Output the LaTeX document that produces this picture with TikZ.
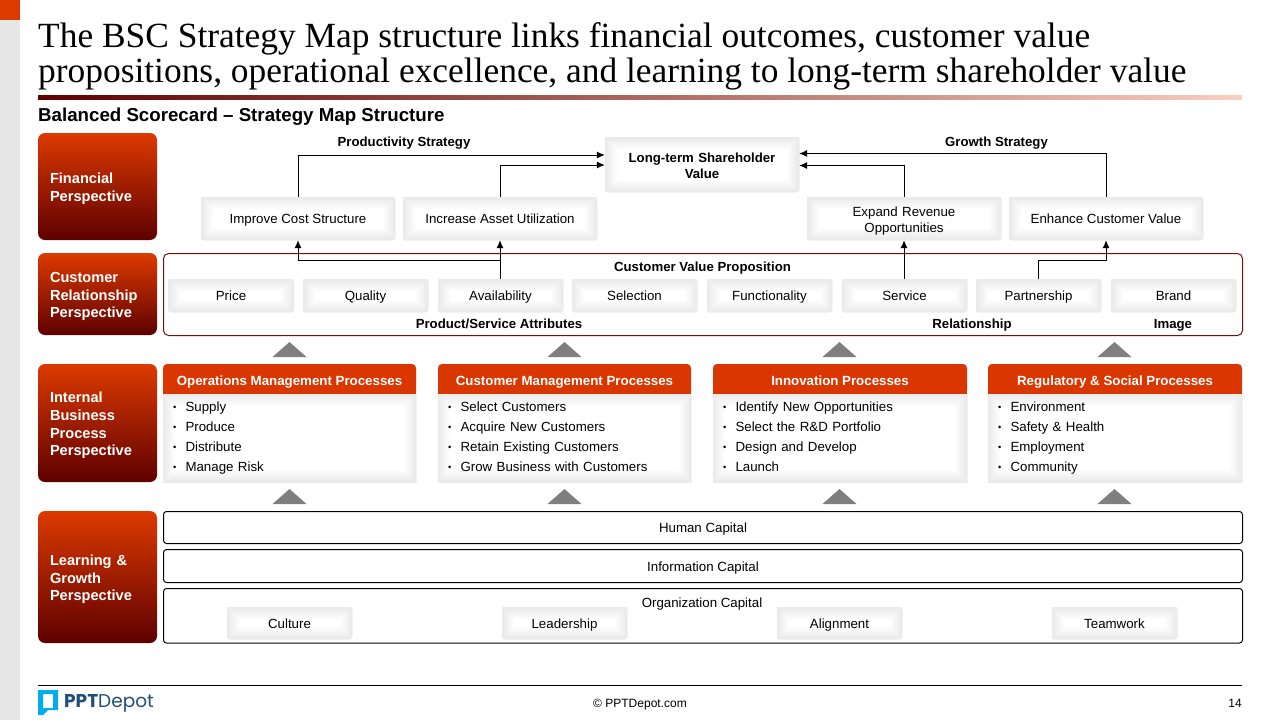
\documentclass[tikz,border=0pt]{standalone}
\usepackage{fontspec}
\setmainfont{Liberation Sans}
\newfontfamily\titlefont{Liberation Serif}
\newfontfamily\logofont{Poppins}
\usepackage{xcolor}
\usetikzlibrary{arrows.meta}

\definecolor{perred}{HTML}{DD3A00}
\definecolor{perdark}{HTML}{5E0000}
\definecolor{procred}{HTML}{DA3700}
\definecolor{framered}{HTML}{7A0C0C}
\definecolor{triangray}{HTML}{7F7F7F}
\definecolor{stripgray}{HTML}{E6E6E6}
\definecolor{rulepale}{HTML}{F9CFBF}
\definecolor{logoblue}{HTML}{00AEEF}
\definecolor{logonavy}{HTML}{1F4E79}

\newcommand{\itm}{\makebox[22.5pt][l]{\hspace{10pt}\raisebox{1pt}{\scalebox{0.7}{\textbullet}}}}

\tikzset{
    textrule/.style={
        execute at begin node={\rule{0pt}{#1}},
        execute at end node={\rule[-3pt]{0pt}{3pt}}},
    softbox/.style={rounded corners=2pt, fill=white, align=center, inner sep=0pt,
        font=\fontsize{13.3}{16}\selectfont,
        path picture={
            \foreach \i [evaluate=\i as \c using 9*(1-\i/13)] in {12,...,1}
                \draw[line width=2*\i pt, draw=black!\c]
                    (path picture bounding box.south west) rectangle (path picture bounding box.north east);
        }},
    attrbox/.style={softbox, textrule=13pt, minimum width=125pt, minimum height=33pt},
    finbox/.style={softbox, minimum width=194pt, minimum height=43pt},
    perspective/.style={rounded corners=7pt, top color=perred, bottom color=perdark, text=white,
        minimum width=119pt, inner xsep=12pt, inner ysep=0pt, text width=95pt, align=left, textrule=15.5pt,
        font=\bfseries\fontsize{14.6}{17.6}\selectfont},
    prochead/.style={fill=procred, rounded corners=4pt, text=white, minimum height=30pt, inner sep=0pt, textrule=16pt,
        font=\bfseries\fontsize{13.3}{15}\selectfont},
    procbody/.style={softbox, rounded corners=0pt, minimum height=88pt, inner sep=0pt, align=left, textrule=10.5pt,
        font=\fontsize{13.3}{20}\selectfont},
    capframe/.style={draw=black, rounded corners=3pt, line width=1pt, minimum width=1079pt, inner sep=0pt, textrule=13pt,
        font=\fontsize{13.3}{16}\selectfont},
    caption/.style={inner sep=0pt, textrule=13pt, font=\bfseries\fontsize{13.2}{16}\selectfont},
    link/.style={draw=black, line width=1pt, -{Latex[length=8pt,width=7pt]}},
    uptri/.style={fill=triangray},
}

\begin{document}
\begin{tikzpicture}[x=1pt, y=-1pt]
    \useasboundingbox (0,0) rectangle (1280,720);

    % slide furniture
    \fill[stripgray] (0,0) rectangle (20,720);
    \fill[perred] (0,0) rectangle (20,20);
    \node[anchor=north west, inner sep=0pt, align=left, font=\titlefont\fontsize{35.4}{35}\selectfont] (title) at (38,22.5)
        {The BSC Strategy Map structure links financial outcomes, customer value\\propositions, operational excellence, and learning to long-term shareholder value};
    \shade[left color=perdark, right color=rulepale] (38,95) rectangle (1242,99);
    \node[anchor=west, inner sep=0pt, font=\bfseries\fontsize{18.7}{22}\selectfont] (subtitle) at (38,116.5)
        {Balanced Scorecard -- Strategy Map Structure};

    % perspectives on the left
    \node[perspective, minimum height=107pt] (finpersp) at (97.5,186.5) {Financial\\Perspective};
    \node[perspective, minimum height=82pt] (custpersp) at (97.5,294) {Customer\\Relationship\\Perspective};
    \node[perspective, minimum height=118pt] (intpersp) at (97.5,423) {Internal\\Business\\Process\\Perspective};
    \node[perspective, minimum height=132pt] (learnpersp) at (97.5,577) {Learning \&\\Growth\\Perspective};

    % financial row
    \node[softbox, textrule=15pt, text width=190pt, minimum width=194pt, minimum height=55pt, font=\bfseries\fontsize{13.2}{16}\selectfont] (value) at (702,164.5) {Long-term Shareholder\\Value};
    \node[finbox, textrule=13pt] (cost) at (298,218.5) {Improve Cost Structure};
    \node[finbox, textrule=13pt] (util) at (500,218.5) {Increase Asset Utilization};
    \node[finbox, textrule=15pt, text width=190pt] (expand) at (904,218.5) {Expand Revenue\\Opportunities};
    \node[finbox, textrule=13pt] (enhance) at (1106,218.5) {Enhance Customer Value};
    \node[caption] (prodcap) at (404,141) {Productivity Strategy};
    \node[caption] (growcap) at (996.5,141) {Growth Strategy};

    % customer row
    \node[draw=framered, line width=1pt, rounded corners=5pt, minimum width=1079pt, minimum height=82pt, inner sep=0pt] (cvpframe) at (703,294.5) {};
    \node[caption] (cvpcap) at (702.5,266) {Customer Value Proposition};
    \node[attrbox] (price) at (231,295.5) {Price};
    \node[attrbox] (quality) at (365.5,295.5) {Quality};
    \node[attrbox] (avail) at (500.5,295.5) {Availability};
    \node[attrbox] (select) at (634.5,295.5) {Selection};
    \node[attrbox] (func) at (769.5,295.5) {Functionality};
    \node[attrbox] (service) at (904.5,295.5) {Service};
    \node[attrbox] (partner) at (1038.5,295.5) {Partnership};
    \node[attrbox] (brand) at (1173.5,295.5) {Brand};
    \node[caption] (attrcap) at (499,323) {Product/Service Attributes};
    \node[caption] (relcap) at (972,323) {Relationship};
    \node[caption] (imgcap) at (1173,323) {Image};

    % connectors
    \draw[link] (cost.north) |- ([yshift=9.5pt]value.west);
    \draw[link] (util.north) |- ([yshift=-0.5pt]value.west);
    \draw[link] (expand.north) |- ([yshift=-1pt]value.east);
    \draw[link] (enhance.north) |- ([yshift=11pt]value.east);
    \coordinate (availturn) at (500,260);
    \coordinate (partturn) at (1038.5,260);
    \draw[link] (avail.north -| util.south) -- (util.south);
    \draw[link] (availturn) -| (cost.south);
    \draw[link] (service.north -| expand.south) -- (expand.south);
    \draw[link] (partner.north) -- (partturn) -| (enhance.south);

    % process columns
    \node[prochead, minimum width=253pt] (opshead) at (289.5,379) {Operations Management Processes};
    \node[prochead, minimum width=253pt] (custhead) at (564.5,379) {Customer Management Processes};
    \node[prochead, minimum width=254pt] (innohead) at (840,379) {Innovation Processes};
    \node[prochead, minimum width=254pt] (reghead) at (1115,379) {Regulatory \& Social Processes};
    \foreach \h in {opshead,custhead,innohead,reghead}
        \fill[procred] (\h.south west) rectangle ([yshift=5pt]\h.south east);

    \node[procbody, minimum width=253pt, text width=253pt] (opsbody) at (289.5,438) {\itm Supply\\\itm Produce\\\itm Distribute\\\itm Manage Risk};
    \node[procbody, minimum width=253pt, text width=253pt] (custbody) at (564.5,438) {\itm Select Customers\\\itm Acquire New Customers\\\itm Retain Existing Customers\\\itm Grow Business with Customers};
    \node[procbody, minimum width=254pt, text width=254pt] (innobody) at (840,438) {\itm Identify New Opportunities\\\itm Select the R\&D Portfolio\\\itm Design and Develop\\\itm Launch};
    \node[procbody, minimum width=254pt, text width=254pt] (regbody) at (1115,438) {\itm Environment\\\itm Safety \& Health\\\itm Employment\\\itm Community};

    % block arrows
    \foreach \x in {289.5,564.5,839.5,1114.5} {
        \fill[uptri] (\x-17,357) -- (\x,342) -- (\x+17,357) -- cycle;
        \fill[uptri] (\x-17,504) -- (\x,489) -- (\x+17,504) -- cycle;
    }

    % learning and growth
    \node[capframe, minimum height=32pt] (human) at (703,527.5) {Human Capital};
    \node[capframe, minimum height=33pt] (info) at (703,566) {Information Capital};
    \node[capframe, minimum height=54.5pt] (org) at (703,615.75) {};
    \node[inner sep=0pt, textrule=13pt, font=\fontsize{13.3}{16}\selectfont] (orgcap) at (702,602) {Organization Capital};
    \node[attrbox, minimum height=32pt] (culture) at (289.5,623) {Culture};
    \node[attrbox, minimum height=32pt] (leader) at (564.5,623) {Leadership};
    \node[attrbox, minimum height=32pt] (align) at (839.5,623) {Alignment};
    \node[attrbox, minimum height=32pt] (team) at (1114.5,623) {Teamwork};

    % footer
    \draw[line width=1pt] (38,685.5) -- (1242,685.5);
    \fill[logoblue, even odd rule] (38,690) -- (58,690) -- (58,710) -- (48,710) -- (43,715) -- (38,715) -- cycle
        (43,694) -- (43,708) -- (53,708) -- (53,694) -- cycle;
    \node[anchor=west, inner sep=0pt, text=logonavy, font=\logofont\fontsize{18.5}{22}\selectfont] (logo) at (64,703.5) {\textbf{PPT}Depot};
    \node[anchor=base, inner sep=0pt, font=\fontsize{12}{14}\selectfont] (copyright) at (640,707.5) {© PPTDepot.com};
    \node[anchor=base east, inner sep=0pt, font=\fontsize{12}{14}\selectfont] (pagenum) at (1242,707.5) {14};
\end{tikzpicture}
\end{document}
